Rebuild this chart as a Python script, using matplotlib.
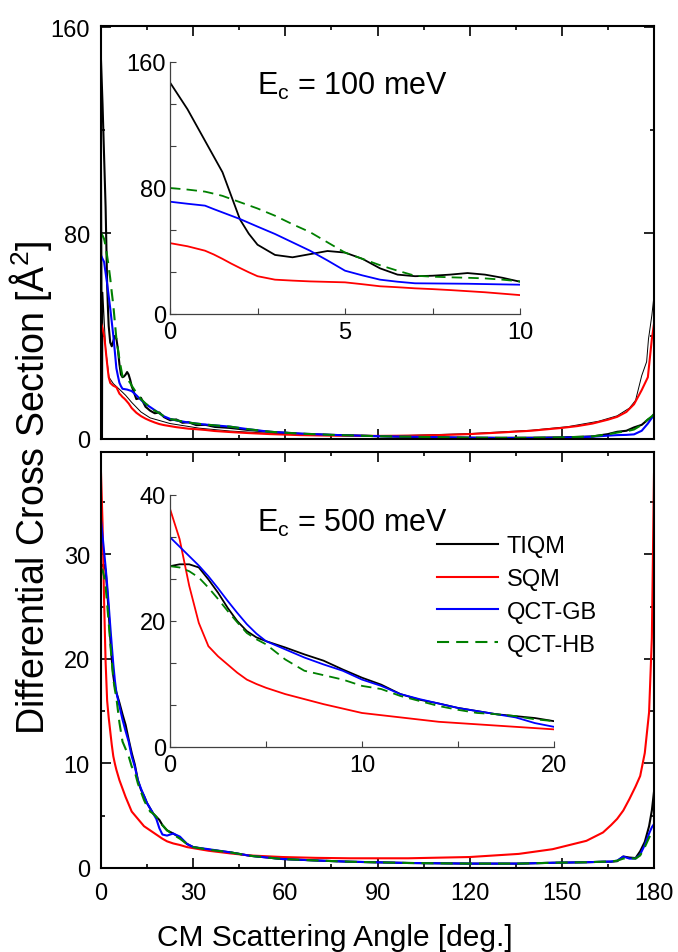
import matplotlib
matplotlib.use('Agg')
import matplotlib.pyplot as plt
from matplotlib import font_manager
from matplotlib.ticker import MultipleLocator, AutoMinorLocator

names = {f.name for f in font_manager.fontManager.ttflist}
fam = 'Liberation Sans Narrow' if 'Liberation Sans Narrow' in names else 'Liberation Sans'
plt.rcParams['font.family'] = [fam, 'DejaVu Sans']
plt.rcParams['mathtext.fontset'] = 'custom'
plt.rcParams['mathtext.rm'] = fam

# ---------------- data: Ec = 100 meV ----------------
ang_a = [0, 0.5, 1, 1.25, 1.5, 1.75, 2, 2.25, 2.5, 3, 3.5, 4, 4.5, 5, 5.5, 6, 6.5, 7, 7.5, 8,
         8.5, 9, 9.5, 10,
         11.5, 13, 14.5, 16, 17.5, 19, 20.5, 22.5, 24.5, 26.5, 28.5, 31, 34, 37, 42, 48, 55,
         65, 75, 90, 100, 110, 120, 130, 140, 150, 155, 160, 165, 168, 171, 173.5, 176, 178,
         179.3, 180]
tiqm_a = [147, 130, 110, 100, 90, 75, 60, 51, 44, 37.5, 36, 38, 40, 39, 35, 29, 25, 24, 24.3, 25,
          26, 25, 23, 20.5,
          15.5, 16, 12.5, 11, 10, 10.3, 8.5, 7.3, 7.6, 6.3, 6.5, 5.4, 5.5, 4.7, 4.3, 3.5, 2.8,
          2.0, 1.6, 1.1, 0.8, 0.6, 0.5, 0.45, 0.5, 0.65, 0.8, 1.0, 1.9, 2.8, 3.2, 4.5, 5.5, 7.5,
          8.5, 9.5]
sqm_a = [45, 43, 40.2, 37.8, 35, 32, 29.2, 26.5, 24, 21.8, 21.2, 20.7, 20.4, 20.1, 18.9, 17.6, 17,
         16.3, 15.8, 15.2, 14.5, 13.8, 12.9, 12,
         10.2, 8.9, 7.9, 7.1, 6.4, 5.8, 5.4, 5.0, 4.6, 4.3, 4.0, 3.8, 3.5, 3.1, 2.7, 2.3, 1.9,
         1.5, 1.3, 1.2, 1.3, 1.5, 1.9, 2.5, 3.2, 4.3, 5.0, 6.0, 7.5, 8.6, 10.5, 13.5, 19, 24,
         38.8, 44.7]
gb_a = [71.3, 70, 68.8, 66.6, 64.5, 62.4, 60.3, 57.9, 55.5, 50.8, 45.5, 40.2, 34, 27.5, 24.5, 21.8,
        20.5, 19.5, 19.4, 19.3, 19.2, 19, 18.8, 18.6,
        17, 15.2, 13.6, 12.4, 11.2, 10, 8.8, 7.8, 7.2, 6.8, 6.4, 6.0, 5.6, 5.3, 4.8, 3.8, 2.8,
        2.1, 1.6, 1.1, 0.9, 0.7, 0.5, 0.4, 0.4, 0.5, 0.7, 0.9, 1.3, 1.5, 1.6, 1.8, 3.2, 6.0,
        8.2, 9.5]
hb_a = [80, 79, 77.7, 76.4, 75, 73, 71, 69, 67, 62.4, 57, 52, 45.5, 39, 35, 31, 27.5, 24.3, 23.7,
        23.3, 23, 22.6, 21.8, 20.7,
        18, 15.5, 13.8, 12.4, 11.0, 10.0, 8.8, 7.8, 7.3, 6.8, 6.4, 6.0, 5.6, 5.3, 4.8, 3.8, 2.8,
        2.1, 1.6, 1.1, 0.9, 0.7, 0.5, 0.45, 0.45, 0.6, 0.8, 1.0, 1.8, 2.5, 3.0, 3.7, 5.5, 7.6,
        8.8, 9.7]
# thin black curve (not in legend)
ang_thin = [0, 0.5, 0.6, 1.5, 2.6, 4, 6, 8, 10, 13, 16, 22.5, 32, 42, 55, 75, 90, 100, 120, 140,
            152, 162, 168, 172, 174, 176, 177.6, 178.2, 179.3, 180]
thin_a = [160, 0, 57, 35, 24, 21.5, 19.3, 17, 14.2, 10.5, 8.2, 6, 4.2, 3.1, 2.2, 1.5, 1.3, 1.4,
          2.1, 3.4, 4.8, 6.9, 9.0, 12, 15, 24.6, 30, 38.8, 48, 55.7]

# ---------------- data: Ec = 500 meV ----------------
ang_b = [0, 0.5, 1, 1.5, 2, 2.5, 3, 3.5, 4, 4.5, 5, 6, 7, 8, 9, 10, 11, 12, 13, 14, 15, 16, 17,
         18, 19, 20, 21.5, 23.5, 25.7, 28, 30, 35, 42, 48.5, 59, 70, 81, 100, 120, 136, 147,
         158, 163.4, 166, 168, 170, 172, 174, 175.5, 177, 178.4, 179.3, 180]
tiqm_b = [28.7, 29, 29, 28.5, 26.6, 24.5, 22.1, 20, 18.4, 17.4, 16.8, 15.8, 14.7, 13.7, 12.3, 11,
          9.9, 8.4, 7.5, 6.9, 6.2, 5.7, 5.2, 4.9, 4.6, 4.1, 3.6, 3.3, 2.9, 2.3, 2.0, 1.75, 1.5,
          1.17, 0.86, 0.72, 0.6, 0.48, 0.42, 0.42, 0.5, 0.55, 0.6, 0.6, 0.65, 1.1, 1.0, 0.95,
          1.6, 2.5, 4.0, 5.5, 7.3]
sqm_b = [37.8, 33, 25.6, 19.7, 16, 14.4, 13.1, 11.8, 10.7, 10, 9.4, 8.4, 7.6, 6.8, 6.1, 5.4,
         5.05, 4.7, 4.35, 4.0, 3.8, 3.6, 3.4, 3.2, 3.0, 2.8, 2.55, 2.35, 2.2, 2.0, 1.9, 1.65,
         1.4, 1.2, 1.05, 0.97, 0.93, 0.93, 1.05, 1.35, 1.8, 2.6, 3.4, 4.1, 4.7, 5.5, 6.6, 7.8,
         8.8, 11, 14.9, 22, 37.7]
gb_b = [33.3, 31.8, 30.3, 28.8, 27.1, 25.2, 23.2, 21.3, 19.5, 18, 16.8, 15.5, 14.2, 13.1, 12.1,
        10.7, 9.7, 8.4, 7.6, 6.9, 6.2, 5.7, 5.2, 4.7, 3.8, 3.2, 3.1, 3.3, 3.0, 2.3, 2.0, 1.8,
        1.5, 1.17, 0.86, 0.72, 0.6, 0.48, 0.42, 0.42, 0.5, 0.55, 0.6, 0.62, 0.7, 1.1, 0.9, 0.9,
        1.3, 2.2, 3.3, 3.9, 4.2]
hb_b = [28.7, 28.5, 27.9, 26.9, 25.3, 23.5, 21.6, 19.8, 18.1, 17.1, 16.3, 13.9, 12.1, 11.4, 10.7,
        9.7, 9.2, 8.1, 7.3, 6.5, 5.9, 5.4, 5.2, 4.9, 4.4, 4.1, 3.6, 3.2, 2.8, 2.3, 2.0, 1.75,
        1.5, 1.17, 0.86, 0.72, 0.6, 0.48, 0.42, 0.42, 0.5, 0.55, 0.6, 0.62, 0.7, 0.9, 0.95, 0.9,
        1.2, 2.0, 2.9, 3.4, 3.7]

labels = ['TIQM', 'SQM', 'QCT-GB', 'QCT-HB']
colors = ['black', '#ff0000', '#0000ff', '#008000']

W, H = 678, 953
fig = plt.figure(figsize=(W / 100, H / 100), dpi=100)


def box(l, t, r, b):
    return [l / W, 1 - b / H, (r - l) / W, (b - t) / H]


ax1 = fig.add_axes(box(101, 27, 654, 440))
ax2 = fig.add_axes(box(101, 453, 654, 869))
in1 = fig.add_axes(box(170, 63, 520, 315), facecolor='none')
in2 = fig.add_axes(box(170, 496, 554, 748), facecolor='none')

dash = (5.8, 3.4)


def draw(ax, ang, series, lw):
    hs = []
    for i, y in enumerate(series):
        h, = ax.plot(ang, y, color=colors[i], lw=lw)
        if i == 3:
            h.set_dashes(dash)
        hs.append(h)
    return hs


draw(ax1, ang_a, [tiqm_a, sqm_a, gb_a, hb_a], 1.5)
ax1.plot(ang_thin, thin_a, color='black', lw=0.7, zorder=1)
hs = draw(ax2, ang_b, [tiqm_b, sqm_b, gb_b, hb_b], 1.5)
draw(in1, ang_a, [tiqm_a, sqm_a, gb_a, hb_a], 1.3)
draw(in2, ang_b, [tiqm_b, sqm_b, gb_b, hb_b], 1.3)

fs = 17
for ax in (ax1, ax2):
    ax.set_xlim(0, 180)
    ax.xaxis.set_major_locator(MultipleLocator(30))
    ax.xaxis.set_minor_locator(MultipleLocator(15))
    ax.tick_params(which='both', direction='in', top=True, right=True, width=1.2, labelsize=fs)
    ax.tick_params(which='major', length=7)
    ax.tick_params(which='minor', length=3)
    ax.tick_params(axis='x', pad=10)
    ax.tick_params(axis='y', pad=8)
    for s in ax.spines.values():
        s.set_linewidth(1.5)

ax1.set_ylim(0, 160.4)
ax1.yaxis.set_major_locator(MultipleLocator(80))
ax1.yaxis.set_minor_locator(MultipleLocator(40))
ax1.tick_params(labelbottom=False)

ax2.set_ylim(0, 39.8)
ax2.yaxis.set_major_locator(MultipleLocator(10))
ax2.yaxis.set_minor_locator(MultipleLocator(5))

in1.set_xlim(0, 10)
in1.set_ylim(0, 160)
in1.xaxis.set_major_locator(MultipleLocator(5))
in1.yaxis.set_major_locator(MultipleLocator(80))
in2.set_xlim(0, 20)
in2.set_ylim(0, 40)
in2.xaxis.set_major_locator(MultipleLocator(10))
in2.yaxis.set_major_locator(MultipleLocator(20))
for ax in (in1, in2):
    ax.xaxis.set_minor_locator(AutoMinorLocator(2))
    ax.yaxis.set_minor_locator(AutoMinorLocator(3))
    ax.spines['top'].set_visible(False)
    ax.spines['right'].set_visible(False)
    for s in ('left', 'bottom'):
        ax.spines[s].set_color('#404040')
        ax.spines[s].set_linewidth(0.9)
    ax.tick_params(which='both', direction='in', length=4, width=0.8, color='#404040',
                   labelsize=fs)
    ax.tick_params(axis='x', pad=5)
    ax.tick_params(axis='y', pad=3)

fig.text(257 / W, 1 - 95 / H, r'E$_\mathregular{c}$ = 100 meV', fontsize=22, va='baseline')
fig.text(257 / W, 1 - 532 / H, r'E$_\mathregular{c}$ = 500 meV', fontsize=22, va='baseline')

ax2.legend(hs, labels, loc='upper left', bbox_to_anchor=(437 / W, 1 - 536 / H),
           bbox_transform=fig.transFigure, frameon=False, fontsize=fs, borderpad=0,
           borderaxespad=0, handlelength=2.6, handletextpad=0.35, labelspacing=0.46)

fig.text(0.045, 0.488, r'Differential Cross Section [Å$^\mathregular{2}$]', rotation=90,
         ha='center', va='center', fontsize=27)
fig.text(335 / W, 7 / H, 'CM Scattering Angle [deg.]', ha='center', va='baseline',
         fontsize=21.5)

fig.savefig('out.png', dpi=100)
